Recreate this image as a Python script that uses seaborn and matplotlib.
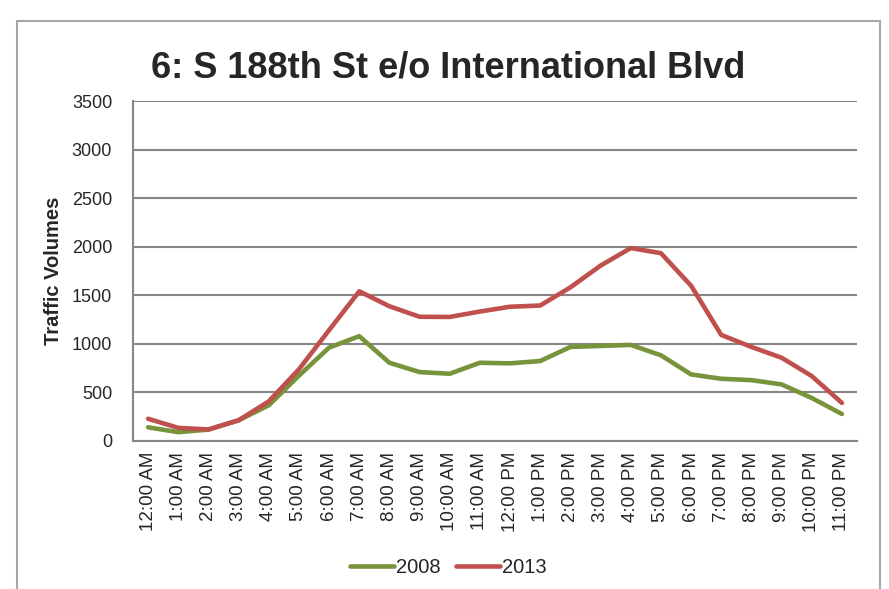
import numpy as np
import pandas as pd
import seaborn as sns
import matplotlib.pyplot as plt
from matplotlib import font_manager
from matplotlib.patches import Rectangle

# hourly counts
hours = ["12:00 AM", "1:00 AM", "2:00 AM", "3:00 AM", "4:00 AM", "5:00 AM",
         "6:00 AM", "7:00 AM", "8:00 AM", "9:00 AM", "10:00 AM", "11:00 AM",
         "12:00 PM", "1:00 PM", "2:00 PM", "3:00 PM", "4:00 PM", "5:00 PM",
         "6:00 PM", "7:00 PM", "8:00 PM", "9:00 PM", "10:00 PM", "11:00 PM"]
vol_2008 = [138, 88, 114, 210, 365, 670, 959, 1077, 803, 707, 690, 803,
            797, 821, 966, 976, 987, 880, 683, 638, 624, 580, 440, 275]
vol_2013 = [226, 132, 116, 210, 405, 735, 1139, 1539, 1385, 1277, 1275, 1331,
            1380, 1393, 1580, 1804, 1985, 1932, 1597, 1090, 966, 855, 666, 389]
years = ["2008", "2013"]
colors = ["#77933C", "#C0504D"]

df = pd.DataFrame({
    "pos": list(range(len(hours))) * 2,
    "Volume": vol_2008 + vol_2013,
    "Year": [years[0]] * len(hours) + [years[1]] * len(hours),
})

sns.set_style("white")
plt.rcParams["font.family"] = ["Liberation Sans", "DejaVu Sans"]

fig = plt.figure(figsize=(8.89, 5.89), dpi=100)
ax = fig.add_axes([0.1496, 0.2518, 0.8144, 0.5767])

sns.lineplot(data=df, x="pos", y="Volume", hue="Year", hue_order=years,
             palette=colors, linewidth=3.3, sort=False, ax=ax, legend=False)

grid = "#868686"
ax.set_ylim(0, 3500)
ax.set_yticks(np.arange(0, 3501, 500))
ax.grid(axis="y", color=grid, linewidth=1.5)
ax.set_axisbelow(True)
ax.set_xlim(-0.5, len(hours) - 0.5)
ax.set_xticks(np.arange(-0.5, len(hours), 1.0))
ax.set_xticklabels([])
ax.set_xticks(np.arange(len(hours)), minor=True)
ax.set_xticklabels(hours, minor=True, rotation=90, fontsize=13.5)
ax.tick_params(axis="x", which="major", length=6, width=1.5, color=grid, direction="out")
ax.tick_params(axis="x", which="minor", length=0, pad=8)
ax.tick_params(axis="y", length=6, width=1.5, color=grid, direction="out",
               labelsize=13, pad=9)

for side in ["top", "right"]:
    ax.spines[side].set_visible(False)
for side in ["left", "bottom"]:
    ax.spines[side].set_color(grid)
    ax.spines[side].set_linewidth(1.5)

ax.set_xlabel("")
ax.set_ylabel("Traffic Volumes", fontsize=14.5, fontweight="bold")
ax.yaxis.set_label_coords(-0.097, 0.5)

# title looks like a narrow face; use it if present
names = {f.name for f in font_manager.fontManager.ttflist}
if "Liberation Sans Narrow" in names:
    tfam, tsize = ["Liberation Sans Narrow", "Liberation Sans"], 31
else:
    tfam, tsize = ["Liberation Sans", "DejaVu Sans"], 26
fig.text(0.504, 0.8676, "6: S 188th St e/o International Blvd",
         ha="center", va="baseline", fontsize=tsize, fontweight="bold",
         family=tfam)

handles = [plt.Line2D([], [], color=c, linewidth=3.3) for c in colors]
fig.legend(handles, years, loc="center", bbox_to_anchor=(0.504, 0.036),
           ncol=2, frameon=False, fontsize=14.5, handlelength=2.2,
           handletextpad=0.1, columnspacing=0.75)

# chart border
fig.patches.append(Rectangle((0.0191, -0.02), 0.9709, 0.9843, transform=fig.transFigure,
                             fill=False, edgecolor="#A6A6A6", linewidth=1.5))

fig.savefig("out.png", dpi=100)
